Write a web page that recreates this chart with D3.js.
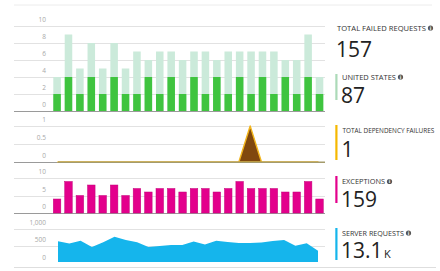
<!DOCTYPE html>
<html>
<head>
<meta charset="utf-8">
<script src="https://cdn.jsdelivr.net/npm/d3@7"></script>
<style>
  html, body { margin: 0; padding: 0; background: #fff; }
  svg { display: block; }
  .tick-label { font-family: "Open Sans", sans-serif; font-size: 6.5px; fill: #a8a8a8; text-anchor: end; }
  .metric-label { font-family: "Open Sans", sans-serif; font-size: 7px; fill: #333; }
  .metric-value { font-family: "Open Sans", sans-serif; font-size: 21px; fill: #222; }
</style>
</head>
<body>
<div id="chart"></div>
<script>
// 每个时间段的数据（24 段）
const totalFailed = [4, 9, 5, 8, 5, 8, 5, 7, 6, 7, 7, 6, 7, 7, 6, 7, 7, 7, 7, 7, 6, 6, 9, 4]
const unitedStates = [2, 4, 2, 4, 2, 4, 2, 2, 4, 2, 4, 2, 4, 2, 4, 2, 4, 2, 4, 2, 4, 2, 4, 2]
const dependencyFailures = [0, 0, 0, 0, 0, 0, 0, 0, 0, 0, 0, 0, 0, 0, 0, 0, 0, 1, 0, 0, 0, 0, 0, 0]
const exceptions = [4, 9, 5, 8, 5, 8, 5, 7, 6, 7, 7, 6, 7, 7, 6, 7, 9, 7, 7, 7, 6, 6, 9, 4]
const serverRequests = [630, 560, 645, 455, 597, 767, 667, 597, 455, 485, 515, 515, 621, 530, 645, 606, 576, 576, 591, 636, 667, 494, 567, 342]

// 纵轴刻度
const failedTicks = [0, 2, 4, 6, 8, 10]
const dependencyTicks = [0, 0.5, 1]
const exceptionTicks = [0, 5, 10]
const serverTicks = [0, 500, 1000]

// 右侧指标
const metricLabels = ['TOTAL FAILED REQUESTS', 'UNITED STATES', 'TOTAL DEPENDENCY FAILURES', 'EXCEPTIONS', 'SERVER REQUESTS']
const metricValues = ['157', '87', '1', '159', '13.1']
const metricUnits = ['', '', '', '', 'K']

const width = 440
const height = 271
const gridX0 = 14
const gridX1 = 325
const labelX = 46

const svg = d3.select('#chart').append('svg')
  .attr('width', width)
  .attr('height', height)

// 外框线
svg.append('line').attr('x1', gridX0).attr('x2', 432).attr('y1', 5).attr('y2', 5)
  .attr('stroke', '#ececec')
svg.append('line').attr('x1', gridX0).attr('x2', 436).attr('y1', 267.5).attr('y2', 267.5)
  .attr('stroke', '#dedede')

const slots = totalFailed.map((d, i) => i)
const xBand = d3.scaleBand().domain(slots).range([53.3, 323.3]).paddingInner(0.34).paddingOuter(0)
const xPoint = d3.scalePoint().domain(slots).range([58, 318])

const yFailed = d3.scaleLinear().domain([0, 10]).range([111, 26])
const yDependency = d3.scaleLinear().domain([0, 1]).range([162, 126])
const yExceptions = d3.scaleLinear().domain([0, 10]).range([213, 178])
const yServer = d3.scaleLinear().domain([0, 1000]).range([262, 229])

// 网格线和刻度文字
function drawGrid (scale, ticks, fmt) {
  const g = svg.append('g')
  g.selectAll('line')
    .data(ticks)
    .join('line')
    .attr('x1', gridX0)
    .attr('x2', gridX1)
    .attr('y1', d => Math.round(scale(d)) + 0.5)
    .attr('y2', d => Math.round(scale(d)) + 0.5)
    .attr('stroke', d => d === 0 ? '#9a9a9a' : '#e2e2e2')
    .attr('stroke-width', d => d === 0 ? 1.2 : 1)
  g.selectAll('text')
    .data(ticks)
    .join('text')
    .attr('class', 'tick-label')
    .attr('x', labelX)
    .attr('y', d => scale(d) - 4)
    .text(d => fmt(d))
}

drawGrid(yFailed, failedTicks, d3.format('d'))
drawGrid(yDependency, dependencyTicks, d => d)
drawGrid(yExceptions, exceptionTicks, d3.format('d'))
drawGrid(yServer, serverTicks.slice(1), d3.format(','))
svg.append('text').attr('class', 'tick-label').attr('x', labelX).attr('y', yServer(0) - 2).text('0')

// 失败请求：浅色为总数，深色为美国
svg.append('g').selectAll('rect')
  .data(totalFailed)
  .join('rect')
  .attr('x', (d, i) => xBand(i))
  .attr('width', xBand.bandwidth())
  .attr('y', d => yFailed(d))
  .attr('height', d => yFailed(0) - yFailed(d))
  .attr('fill', '#cbeada')

svg.append('g').selectAll('rect')
  .data(unitedStates)
  .join('rect')
  .attr('x', (d, i) => xBand(i))
  .attr('width', xBand.bandwidth())
  .attr('y', d => yFailed(d))
  .attr('height', d => yFailed(0) - yFailed(d))
  .attr('fill', '#3fc43f')

// 依赖失败面积
const depArea = d3.area()
  .x((d, i) => xPoint(i))
  .y0(yDependency(0))
  .y1(d => yDependency(d))
svg.append('path')
  .datum(dependencyFailures)
  .attr('d', depArea)
  .attr('fill', '#80480e')
  .attr('stroke', '#f2b51c')
  .attr('stroke-width', 1.4)
  .attr('stroke-linejoin', 'round')
// 零线压在面积描边上，呈橄榄灰色
svg.append('line')
  .attr('x1', xPoint(0))
  .attr('x2', gridX1)
  .attr('y1', yDependency(0) + 0.3)
  .attr('y2', yDependency(0) + 0.3)
  .attr('stroke', '#a49b6c')
  .attr('stroke-width', 1.4)

// 异常柱
svg.append('g').selectAll('rect')
  .data(exceptions)
  .join('rect')
  .attr('x', (d, i) => xBand(i))
  .attr('width', xBand.bandwidth())
  .attr('y', d => yExceptions(d))
  .attr('height', d => yExceptions(0) - yExceptions(d))
  .attr('fill', '#e3008c')
  .attr('stroke', '#c4007a')
  .attr('stroke-width', 0.5)

// 服务器请求面积
const serverArea = d3.area()
  .x((d, i) => xPoint(i))
  .y0(yServer(0))
  .y1(d => yServer(d))
svg.append('path')
  .datum(serverRequests)
  .attr('d', serverArea)
  .attr('fill', '#15b5ec')

// 右侧指标块
const metricPos = [
  { x: 337, labelY: 30.5, valueY: 57, bar: null },
  { x: 342, labelY: 79.5, valueY: 103, bar: [74, 100, '#acdab8'] },
  { x: 342.5, labelY: 132.5, valueY: 157, bar: [125, 160, '#f5b800'] },
  { x: 342, labelY: 184, valueY: 206.5, bar: [176, 203, '#e3008c'] },
  { x: 342, labelY: 235.5, valueY: 258, bar: [228, 260, '#15b5ec'] }
]
const labelWidths = [89, 54, 92, 43, 62]

metricLabels.forEach((label, i) => {
  const p = metricPos[i]
  const g = svg.append('g')
  if (p.bar) {
    g.append('rect')
      .attr('x', 335.3)
      .attr('y', p.bar[0])
      .attr('width', 2.2)
      .attr('height', p.bar[1] - p.bar[0])
      .attr('fill', p.bar[2])
  }
  // 窄字效果：按实际宽度横向压缩
  const lt = g.append('text')
    .attr('class', 'metric-label')
    .text(label)
  const natural = lt.node().getComputedTextLength()
  lt.attr('transform', `translate(${p.x},${p.labelY}) scale(${labelWidths[i] / natural},1)`)
  // 信息图标
  if (i !== 2) {
    const cx = p.x + labelWidths[i] + 4.5
    g.append('circle')
      .attr('cx', cx)
      .attr('cy', p.labelY - 2.5)
      .attr('r', 2.6)
      .attr('fill', '#555')
    g.append('text')
      .attr('x', cx)
      .attr('y', p.labelY - 0.6)
      .attr('text-anchor', 'middle')
      .attr('font-family', 'DejaVu Sans, sans-serif')
      .attr('font-size', 4.5)
      .attr('font-weight', 'bold')
      .attr('fill', '#fff')
      .text('i')
  }
  const vt = g.append('text')
    .attr('class', 'metric-value')
    .attr('x', p.x - 1)
    .attr('y', p.valueY)
  vt.append('tspan').text(metricValues[i])
  if (metricUnits[i]) {
    vt.append('tspan')
      .attr('dx', 1.5)
      .attr('font-size', 11)
      .text(metricUnits[i])
  }
})
</script>
</body>
</html>
